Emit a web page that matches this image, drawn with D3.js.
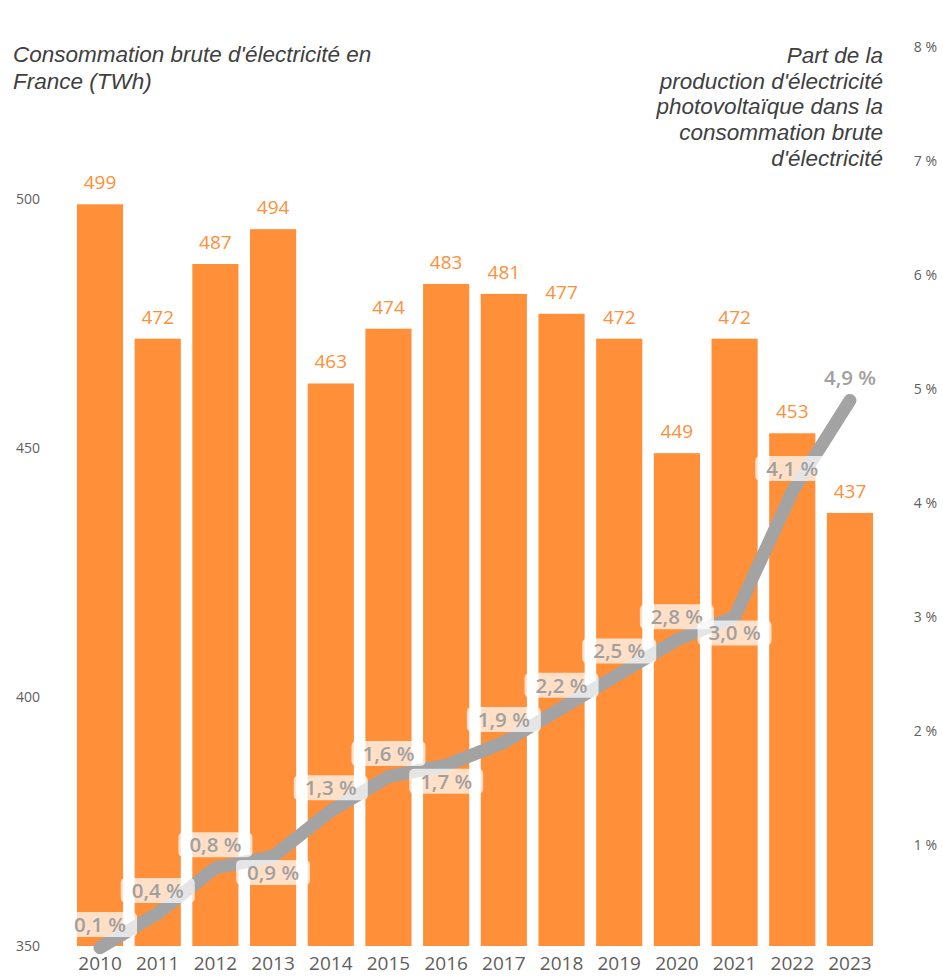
<!DOCTYPE html>
<html>
<head>
<meta charset="utf-8">
<script src="https://cdn.jsdelivr.net/npm/d3@7/dist/d3.min.js"></script>
<style>
  html, body { margin: 0; padding: 0; background: #fff; }
  svg { display: block; }
</style>
</head>
<body>
<svg id="chart" width="943" height="978"></svg>
<script>
// Consommation brute et part du photovoltaïque, France 2010-2023
const years = ["2010","2011","2012","2013","2014","2015","2016","2017","2018","2019","2020","2021","2022","2023"];
const consommation = [499, 472, 487, 494, 463, 474, 483, 481, 477, 472, 449, 472, 453, 437];
const partPV = [0.1, 0.4, 0.8, 0.9, 1.3, 1.6, 1.7, 1.9, 2.2, 2.5, 2.8, 3.0, 4.1, 4.9];
// position of each percentage label: above or below its point
const labelSide = ["up","up","up","down","up","up","down","up","up","up","up","down","up","up"];
const leftTicks = [350, 400, 450, 500];
const rightTicks = [1, 2, 3, 4, 5, 6, 7, 8];

const svg = d3.select("#chart");
const FONT = "'Open Sans', 'Noto Sans', sans-serif";
const TITLE_FONT = "'Liberation Sans', Arial, sans-serif";

const x = d3.scaleBand().domain(years).range([71.2, 878.8]).paddingInner(0.2).paddingOuter(0.1);
const yL = d3.scaleLinear().domain([350, 500]).range([946, 199.3]);
const yR = d3.scaleLinear().domain([0, 8]).range([959, 47]);

const fmt = v => d3.format(".1f")(v).replace(".", ",") + " %";

// left axis
const leftAxis = svg.append("g").attr("transform", "translate(40,0)")
  .call(d3.axisLeft(yL).tickValues(leftTicks).tickSize(0).tickPadding(0));
leftAxis.select(".domain").remove();
leftAxis.selectAll("text").attr("font-family", FONT).attr("font-size", 14).attr("fill", "#605e5c");

// right axis
const rightAxis = svg.append("g").attr("transform", "translate(937,0)")
  .call(d3.axisLeft(yR).tickValues(rightTicks).tickFormat(d => d + " %").tickSize(0).tickPadding(0));
rightAxis.select(".domain").remove();
rightAxis.selectAll("text").attr("font-family", FONT).attr("font-size", 14).attr("fill", "#605e5c");

// bottom axis
const bottomAxis = svg.append("g").attr("transform", "translate(0,956)")
  .call(d3.axisBottom(x).tickSize(0).tickPadding(0));
bottomAxis.select(".domain").remove();
bottomAxis.selectAll("text").attr("font-family", FONT).attr("font-size", 19).attr("fill", "#605e5c");

// bars
svg.append("g").selectAll("rect").data(consommation).join("rect")
  .attr("x", (d, i) => x(years[i]))
  .attr("width", x.bandwidth())
  .attr("y", d => yL(d))
  .attr("height", d => yL(350) - yL(d))
  .attr("fill", "#ff8f38");

// bar values
svg.append("g").selectAll("text").data(consommation).join("text")
  .attr("x", (d, i) => x(years[i]) + x.bandwidth() / 2)
  .attr("y", d => yL(d) - 15)
  .attr("text-anchor", "middle")
  .attr("font-family", FONT).attr("font-size", 19)
  .attr("fill", "#ff8f38")
  .text(d => d);

// photovoltaic share line
const line = d3.line()
  .x((d, i) => x(years[i]) + x.bandwidth() / 2)
  .y(d => yR(d));
svg.append("path").datum(partPV)
  .attr("d", line)
  .attr("fill", "none")
  .attr("stroke", "#a3a3a3")
  .attr("stroke-width", 13)
  .attr("stroke-linecap", "round")
  .attr("stroke-linejoin", "round");

// percentage labels with translucent backgrounds
const lab = svg.append("g").selectAll("g").data(partPV).join("g")
  .attr("transform", (d, i) => {
    const cx = x(years[i]) + x.bandwidth() / 2;
    const cy = yR(d) + (labelSide[i] === "up" ? -23 : 16);
    return `translate(${cx},${cy})`;
  });
lab.filter((d, i) => i < partPV.length - 1).append("rect")
  .attr("x", -37).attr("y", -12.5).attr("width", 74).attr("height", 25)
  .attr("rx", 5)
  .attr("fill", "#fff").attr("fill-opacity", 0.72);
lab.append("text")
  .attr("text-anchor", "middle")
  .attr("dy", "0.36em")
  .attr("font-family", FONT).attr("font-size", 20.5).attr("font-weight", 600)
  .attr("fill", "#a0a0a0")
  .text(d => fmt(d));

// titles
const leftTitle = ["Consommation brute d'électricité en", "France (TWh)"];
svg.append("g").selectAll("text").data(leftTitle).join("text")
  .attr("x", 13).attr("y", (d, i) => 62 + i * 27)
  .attr("font-family", TITLE_FONT).attr("font-size", 22.5).attr("font-style", "italic")
  .attr("fill", "#404040")
  .text(d => d);

const rightTitle = ["Part de la", "production d'électricité", "photovoltaïque dans la", "consommation brute", "d'électricité"];
svg.append("g").selectAll("text").data(rightTitle).join("text")
  .attr("x", 883).attr("y", (d, i) => 63 + i * 25.7)
  .attr("text-anchor", "end")
  .attr("font-family", TITLE_FONT).attr("font-size", 22.5).attr("font-style", "italic")
  .attr("fill", "#404040")
  .text(d => d);
</script>
</body>
</html>
